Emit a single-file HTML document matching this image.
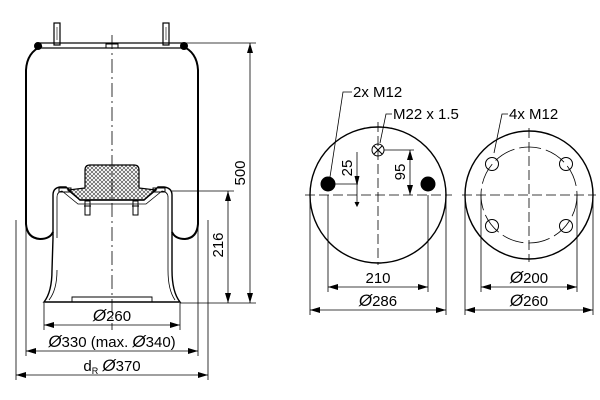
<!DOCTYPE html>
<html><head><meta charset="utf-8"><style>
html,body{margin:0;padding:0;background:#fff;}
svg{display:block;font-family:"Liberation Sans",sans-serif;}
.d{font-size:17px;font-style:italic;}
</style></head><body>
<svg width="600" height="400" viewBox="0 0 600 400" xmlns="http://www.w3.org/2000/svg">
<defs>
<marker id="a" viewBox="0 0 10 6" refX="10" refY="3" markerWidth="10" markerHeight="6" orient="auto-start-reverse" markerUnits="userSpaceOnUse"><path d="M0,0 L10,3 L0,6 z" fill="#000"/></marker>
<pattern id="h" width="4" height="4" patternUnits="userSpaceOnUse"><path d="M0,4 L4,0 M0,0 L4,4" stroke="#333" stroke-width="0.6"/></pattern>
</defs>
<g fill="none" stroke="#000" stroke-width="1">
<path d="M53,232 Q50,239 40,239 Q27,238 26,224 L26,70 Q27,52 42,46" stroke-width="2"/>
<path d="M172,232 Q175,239 185,239 Q197,238 198,224 L198,70 Q197,52 182,46" stroke-width="2"/>
<circle cx="38" cy="46" r="3.5" fill="#000"/>
<circle cx="184" cy="46" r="3.5" fill="#000"/>
<rect x="37" y="43" width="148" height="5" stroke-width="1.2"/>
<rect x="106" y="44" width="12" height="4"/>
<rect x="54" y="23" width="6" height="22" stroke-width="1.2"/>
<rect x="163" y="23" width="6" height="22" stroke-width="1.2"/>
<line x1="57" y1="27" x2="57" y2="40" stroke-width="0.6"/>
<line x1="166" y1="27" x2="166" y2="40" stroke-width="0.6"/>
<path d="M53,238 L53,195 Q53,188 60,187 L66,187 L80,200 L144,200 L158,187 L164,187 Q172,188 172,195 L172,270 Q172,292 180,302 L44,302 Q52,292 52,270 Z" stroke-width="1.4"/>
<path d="M57,238 L57,197 Q57,192 62,191 L78,204 L146,204 L162,191 Q168,192 168,197 L168,270 Q168,290 175,300" stroke-width="0.8"/>
<path d="M57,270 Q57,290 49,300" stroke-width="0.8"/>
<path d="M72,302 L72,297 L152,297 L152,302" stroke-width="0.9"/>
<path d="M85,188 L85,170 Q85,165 90,165 L134,165 Q139,165 139,170 L139,188 L156,190 L144,200 L80,200 L68,190 Z" fill="url(#h)" stroke-width="1.2"/>
<rect x="59" y="188" width="12" height="4"/>
<rect x="153" y="188" width="12" height="4"/>
<rect x="85" y="201" width="5" height="14"/>
<rect x="133" y="201" width="5" height="14"/>
<line x1="84" y1="206" x2="91" y2="206"/>
<line x1="132" y1="206" x2="139" y2="206"/>
<line x1="112" y1="35" x2="112" y2="330" stroke-width="0.8" stroke-dasharray="14,4,2,4"/>
<line x1="185" y1="43" x2="256" y2="43" stroke-width="0.8"/>
<line x1="172" y1="191" x2="234" y2="191" stroke-width="0.8"/>
<line x1="180" y1="303" x2="256" y2="303" stroke-width="0.8"/>
<line x1="16" y1="220" x2="16" y2="380" stroke-width="0.8"/>
<line x1="208" y1="220" x2="208" y2="380" stroke-width="0.8"/>
<line x1="26" y1="225" x2="26" y2="356" stroke-width="0.8"/>
<line x1="198" y1="225" x2="198" y2="356" stroke-width="0.8"/>
<line x1="44" y1="303" x2="44" y2="330" stroke-width="0.8"/>
<line x1="180" y1="303" x2="180" y2="330" stroke-width="0.8"/>
<line x1="250" y1="43" x2="250" y2="303" stroke-width="0.8" marker-start="url(#a)" marker-end="url(#a)"/>
<line x1="228" y1="191" x2="228" y2="303" stroke-width="0.8" marker-start="url(#a)" marker-end="url(#a)"/>
<line x1="44" y1="325" x2="180" y2="325" stroke-width="0.8" marker-start="url(#a)" marker-end="url(#a)"/>
<line x1="26" y1="351" x2="198" y2="351" stroke-width="0.8" marker-start="url(#a)" marker-end="url(#a)"/>
<line x1="16" y1="375" x2="208" y2="375" stroke-width="0.8" marker-start="url(#a)" marker-end="url(#a)"/>

<circle cx="378" cy="195" r="68" stroke-width="1.4"/>
<line x1="305" y1="195" x2="452" y2="195" stroke-width="0.8" stroke-dasharray="10,4"/>
<line x1="378" y1="122" x2="378" y2="265" stroke-width="0.8" stroke-dasharray="10,4"/>
<circle cx="328" cy="184" r="7" fill="#000"/>
<circle cx="428" cy="184" r="7" fill="#000"/>
<circle cx="378" cy="150" r="6"/>
<line x1="374" y1="146" x2="382" y2="154"/><line x1="382" y1="146" x2="374" y2="154"/>
<polyline points="330,177 343,92 352,92" stroke-width="0.8"/>
<polyline points="380,143 386,114 392,114" stroke-width="0.8"/>
<line x1="335" y1="184" x2="358" y2="184" stroke-width="0.8"/>
<line x1="357" y1="152" x2="357" y2="206" stroke-width="0.8"/>
<path d="M355,176 L357,184 L359,176 M355,202 L357,206 L359,202" fill="#000"/>
<line x1="384" y1="150" x2="414" y2="150" stroke-width="0.8"/>
<line x1="410" y1="150" x2="410" y2="195" stroke-width="0.8" marker-start="url(#a)" marker-end="url(#a)"/>
<line x1="328" y1="195" x2="328" y2="292" stroke-width="0.8"/>
<line x1="428" y1="195" x2="428" y2="292" stroke-width="0.8"/>
<line x1="310" y1="195" x2="310" y2="315" stroke-width="0.8"/>
<line x1="446" y1="195" x2="446" y2="315" stroke-width="0.8"/>
<line x1="328" y1="287" x2="428" y2="287" stroke-width="0.8" marker-start="url(#a)" marker-end="url(#a)"/>
<line x1="310" y1="310" x2="446" y2="310" stroke-width="0.8" marker-start="url(#a)" marker-end="url(#a)"/>

<circle cx="529" cy="195" r="64" stroke-width="1.4"/>
<circle cx="529" cy="195" r="48" stroke-width="0.8" stroke-dasharray="22,5"/>
<line x1="462" y1="195" x2="596" y2="195" stroke-width="0.8" stroke-dasharray="10,4"/>
<line x1="529" y1="128" x2="529" y2="262" stroke-width="0.8" stroke-dasharray="10,4"/>
<circle cx="492" cy="164" r="6.5"/><circle cx="566" cy="164" r="6.5"/>
<circle cx="492" cy="226" r="6.5"/><circle cx="566" cy="226" r="6.5"/>
<polyline points="494,153 502,114 508,114" stroke-width="0.8"/>
<line x1="481" y1="195" x2="481" y2="292" stroke-width="0.8"/>
<line x1="577" y1="195" x2="577" y2="292" stroke-width="0.8"/>
<line x1="465" y1="195" x2="465" y2="315" stroke-width="0.8"/>
<line x1="593" y1="195" x2="593" y2="315" stroke-width="0.8"/>
<line x1="481" y1="287" x2="577" y2="287" stroke-width="0.8" marker-start="url(#a)" marker-end="url(#a)"/>
<line x1="465" y1="310" x2="593" y2="310" stroke-width="0.8" marker-start="url(#a)" marker-end="url(#a)"/>
</g>
<g fill="#000" font-size="15">
<text x="245" y="173" transform="rotate(-90 245 173)" text-anchor="middle">500</text>
<text x="223" y="245" transform="rotate(-90 223 245)" text-anchor="middle">216</text>
<text x="112" y="321" text-anchor="middle"><tspan class="d">Ø</tspan>260</text>
<text x="112" y="347" text-anchor="middle"><tspan class="d">Ø</tspan>330 (max. <tspan class="d">Ø</tspan>340)</text>
<text x="112" y="371" text-anchor="middle">d<tspan font-size="9" dy="3">R</tspan><tspan dy="-3"> </tspan><tspan class="d">Ø</tspan>370</text>
<text x="353" y="97">2x M12</text>
<text x="393" y="119">M22 x 1.5</text>
<text x="509" y="119">4x M12</text>
<text x="352" y="168" transform="rotate(-90 352 168)" text-anchor="middle">25</text>
<text x="405" y="172" transform="rotate(-90 405 172)" text-anchor="middle">95</text>
<text x="378" y="283" text-anchor="middle">210</text>
<text x="378" y="306" text-anchor="middle"><tspan class="d">Ø</tspan>286</text>
<text x="529" y="283" text-anchor="middle"><tspan class="d">Ø</tspan>200</text>
<text x="529" y="306" text-anchor="middle"><tspan class="d">Ø</tspan>260</text>
</g>
</svg>
</body></html>
